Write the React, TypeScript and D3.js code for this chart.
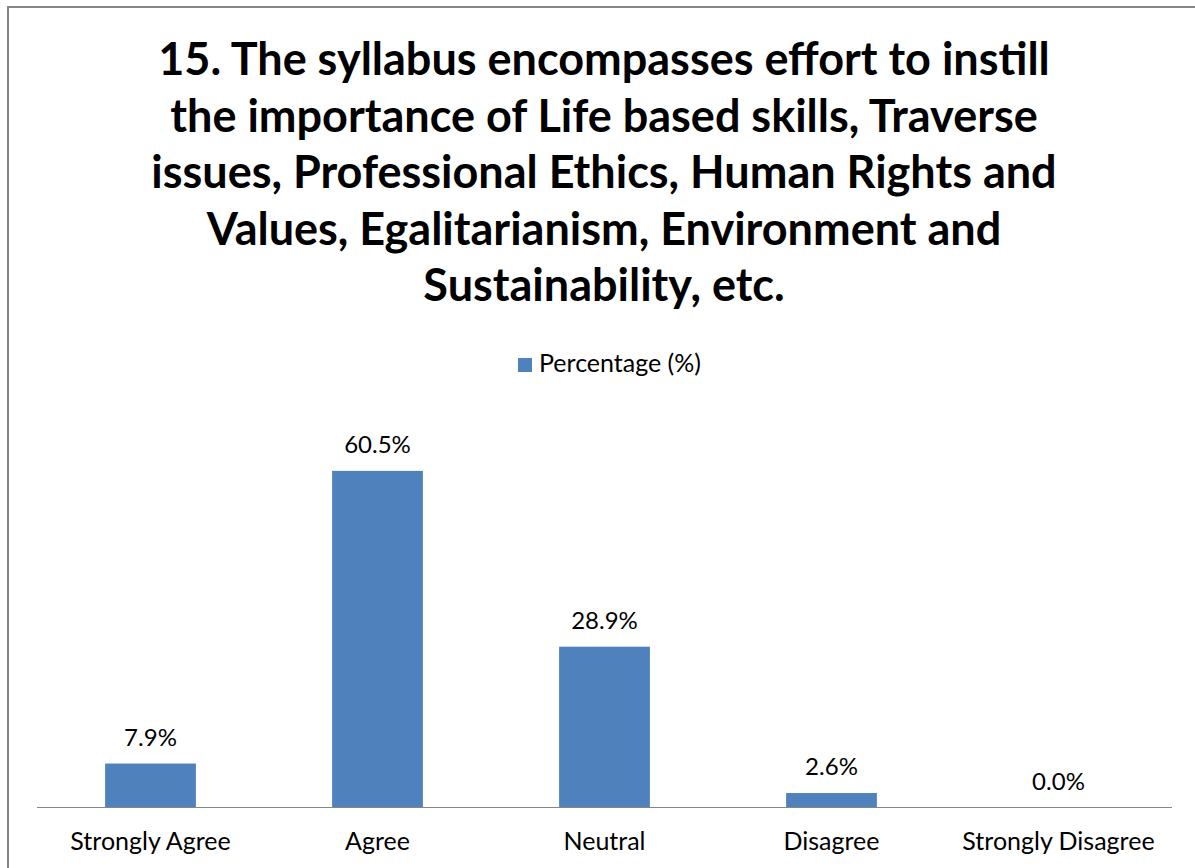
import * as d3 from "d3";

const categories = ["Strongly Agree", "Agree", "Neutral", "Disagree", "Strongly Disagree"];
const percentages = [7.9, 60.5, 28.9, 2.6, 0.0];
const seriesName = "Percentage (%)";
const titleLines = [
  "15. The syllabus encompasses effort to instill",
  "the importance of Life based skills, Traverse",
  "issues, Professional Ethics, Human Rights and",
  "Values, Egalitarianism, Environment and",
  "Sustainability, etc.",
];

const W = 1195;
const H = 868;
const FONT = "Lato, Carlito, Calibri, sans-serif";
const BAR = "#4F81BD";

export default function App() {
  const x = d3.scaleBand<string>()
    .domain(categories)
    .range([37, 1172])
    .paddingInner(0.6)
    .paddingOuter(0.3);
  const y = d3.scaleLinear().domain([0, 70]).range([807.5, 418]);

  return (
    <svg
      width={W}
      height={H}
      style={{ position: "absolute", left: 0, top: 0, background: "#fff" }}
      fontFamily={FONT}
    >
      {/* chart frame, cut off by the picture on the right and bottom */}
      <rect x={8} y={7} width={W + 20} height={H + 20} fill="#fff" stroke="#868686" strokeWidth={2} />

      <g textAnchor="middle" fontWeight={700} fontSize={45} fill="#000">
        {titleLines.map((t, i) => (
          <text key={i} x={604} y={75 + i * 56.5}>{t}</text>
        ))}
      </g>

      {/* legend */}
      <rect x={518} y={358} width={14} height={14} fill={BAR} />
      <text x={539} y={372} fontSize={25} fill="#000">{seriesName}</text>

      {categories.map((c, i) => (
        <g key={c}>
          <rect
            x={x(c)}
            y={y(percentages[i])}
            width={x.bandwidth()}
            height={y(0) - y(percentages[i])}
            fill={BAR}
          />
          <text
            x={(x(c) ?? 0) + x.bandwidth() / 2}
            y={y(percentages[i]) - 18}
            textAnchor="middle"
            fontSize={24}
            fill="#000"
          >
            {percentages[i].toFixed(1)}%
          </text>
          <text
            x={(x(c) ?? 0) + x.bandwidth() / 2}
            y={850}
            textAnchor="middle"
            fontSize={25}
            fill="#000"
          >
            {c}
          </text>
        </g>
      ))}

      <line x1={37} x2={1172} y1={y(0)} y2={y(0)} stroke="#868686" strokeWidth={1} />
    </svg>
  );
}
